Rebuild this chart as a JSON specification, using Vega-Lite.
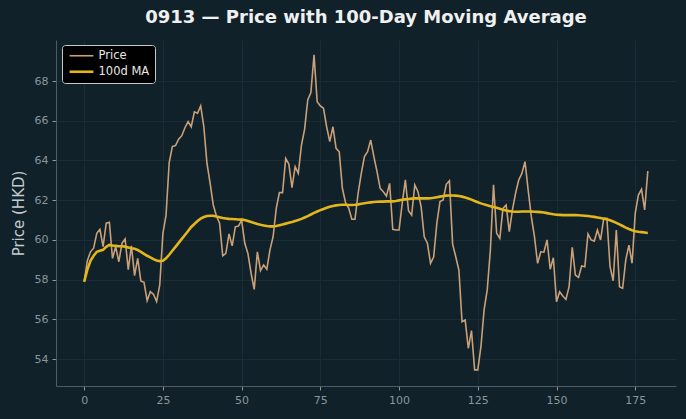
{
  "$schema": "https://vega.github.io/schema/vega-lite/v6.json",
  "autosize": "none",
  "width": 620,
  "height": 346,
  "padding": {"left": 56, "top": 40, "right": 10, "bottom": 33},
  "background": "#10212a",
  "title": {
    "text": "0913 — Price with 100-Day Moving Average",
    "font": "DejaVu Sans",
    "fontSize": 18,
    "fontWeight": "bold",
    "color": "#f0f0f0",
    "anchor": "middle",
    "offset": 13
  },
  "config": {
    "view": {"stroke": null},
    "font": "DejaVu Sans",
    "axis": {
      "labelFont": "DejaVu Sans",
      "labelFontSize": 11,
      "labelColor": "#8b969c",
      "tickColor": "#8b969c",
      "tickSize": 4,
      "labelPadding": 4,
      "domainColor": "#4e5c63",
      "gridColor": "#1a2d36",
      "gridWidth": 1
    },
    "legend": {
      "orient": "none",
      "legendX": 6,
      "legendY": 5,
      "fillColor": "#000000",
      "strokeColor": "#c8c8c8",
      "cornerRadius": 3,
      "padding": 5,
      "labelColor": "#e8e8e8",
      "labelFont": "DejaVu Sans",
      "labelFontSize": 11.5,
      "labelOffset": 20,
      "symbolType": "M-0.9,0H5.9",
      "symbolSize": 49,
      "rowPadding": 3
    }
  },
  "data": {
    "values": [
      {"day": 0, "Price": 57.89, "100d MA": 57.89},
      {"day": 1, "Price": 58.95, "100d MA": 58.5},
      {"day": 2, "Price": 59.4, "100d MA": 58.95},
      {"day": 3, "Price": 59.58, "100d MA": 59.2},
      {"day": 4, "Price": 60.33, "100d MA": 59.4},
      {"day": 5, "Price": 60.53, "100d MA": 59.45},
      {"day": 6, "Price": 59.66, "100d MA": 59.5},
      {"day": 7, "Price": 60.84, "100d MA": 59.65},
      {"day": 8, "Price": 60.89, "100d MA": 59.75},
      {"day": 9, "Price": 59.07, "100d MA": 59.72},
      {"day": 10, "Price": 59.66, "100d MA": 59.7},
      {"day": 11, "Price": 58.9, "100d MA": 59.68},
      {"day": 12, "Price": 59.83, "100d MA": 59.68},
      {"day": 13, "Price": 60.05, "100d MA": 59.66},
      {"day": 14, "Price": 58.5, "100d MA": 59.62},
      {"day": 15, "Price": 59.7, "100d MA": 59.58},
      {"day": 16, "Price": 58.2, "100d MA": 59.55},
      {"day": 17, "Price": 59.07, "100d MA": 59.49},
      {"day": 18, "Price": 57.93, "100d MA": 59.4},
      {"day": 19, "Price": 57.86, "100d MA": 59.3},
      {"day": 20, "Price": 56.94, "100d MA": 59.2},
      {"day": 21, "Price": 57.39, "100d MA": 59.12},
      {"day": 22, "Price": 57.26, "100d MA": 59.03},
      {"day": 23, "Price": 56.89, "100d MA": 58.96},
      {"day": 24, "Price": 57.73, "100d MA": 58.93},
      {"day": 25, "Price": 60.33, "100d MA": 58.95},
      {"day": 26, "Price": 61.25, "100d MA": 59.07},
      {"day": 27, "Price": 63.9, "100d MA": 59.25},
      {"day": 28, "Price": 64.7, "100d MA": 59.45},
      {"day": 29, "Price": 64.75, "100d MA": 59.65},
      {"day": 30, "Price": 65.07, "100d MA": 59.85},
      {"day": 31, "Price": 65.25, "100d MA": 60.05},
      {"day": 32, "Price": 65.65, "100d MA": 60.25},
      {"day": 33, "Price": 65.96, "100d MA": 60.45},
      {"day": 34, "Price": 65.7, "100d MA": 60.65},
      {"day": 35, "Price": 66.45, "100d MA": 60.8},
      {"day": 36, "Price": 66.38, "100d MA": 60.95},
      {"day": 37, "Price": 66.75, "100d MA": 61.07},
      {"day": 38, "Price": 65.7, "100d MA": 61.15},
      {"day": 39, "Price": 63.85, "100d MA": 61.2},
      {"day": 40, "Price": 62.85, "100d MA": 61.22},
      {"day": 41, "Price": 61.76, "100d MA": 61.22},
      {"day": 42, "Price": 61.2, "100d MA": 61.18},
      {"day": 43, "Price": 60.84, "100d MA": 61.14},
      {"day": 44, "Price": 59.2, "100d MA": 61.1},
      {"day": 45, "Price": 59.32, "100d MA": 61.08},
      {"day": 46, "Price": 60.3, "100d MA": 61.06},
      {"day": 47, "Price": 59.7, "100d MA": 61.05},
      {"day": 48, "Price": 60.66, "100d MA": 61.04},
      {"day": 49, "Price": 60.7, "100d MA": 61.03},
      {"day": 50, "Price": 61.0, "100d MA": 61.02},
      {"day": 51, "Price": 59.83, "100d MA": 61.0},
      {"day": 52, "Price": 59.32, "100d MA": 60.95},
      {"day": 53, "Price": 58.32, "100d MA": 60.9},
      {"day": 54, "Price": 57.51, "100d MA": 60.85},
      {"day": 55, "Price": 59.4, "100d MA": 60.8},
      {"day": 56, "Price": 58.45, "100d MA": 60.76},
      {"day": 57, "Price": 58.74, "100d MA": 60.73},
      {"day": 58, "Price": 58.52, "100d MA": 60.7},
      {"day": 59, "Price": 59.5, "100d MA": 60.68},
      {"day": 60, "Price": 60.16, "100d MA": 60.68},
      {"day": 61, "Price": 61.59, "100d MA": 60.7},
      {"day": 62, "Price": 62.38, "100d MA": 60.74},
      {"day": 63, "Price": 62.38, "100d MA": 60.78},
      {"day": 64, "Price": 64.11, "100d MA": 60.82},
      {"day": 65, "Price": 63.82, "100d MA": 60.86},
      {"day": 66, "Price": 62.63, "100d MA": 60.9},
      {"day": 67, "Price": 63.69, "100d MA": 60.95},
      {"day": 68, "Price": 63.35, "100d MA": 61.0},
      {"day": 69, "Price": 64.78, "100d MA": 61.06},
      {"day": 70, "Price": 65.57, "100d MA": 61.13},
      {"day": 71, "Price": 67.05, "100d MA": 61.2},
      {"day": 72, "Price": 67.42, "100d MA": 61.28},
      {"day": 73, "Price": 69.32, "100d MA": 61.36},
      {"day": 74, "Price": 66.96, "100d MA": 61.43},
      {"day": 75, "Price": 66.75, "100d MA": 61.5},
      {"day": 76, "Price": 66.63, "100d MA": 61.56},
      {"day": 77, "Price": 65.7, "100d MA": 61.62},
      {"day": 78, "Price": 64.95, "100d MA": 61.67},
      {"day": 79, "Price": 65.7, "100d MA": 61.71},
      {"day": 80, "Price": 64.61, "100d MA": 61.74},
      {"day": 81, "Price": 64.44, "100d MA": 61.76},
      {"day": 82, "Price": 62.6, "100d MA": 61.77},
      {"day": 83, "Price": 61.87, "100d MA": 61.77},
      {"day": 84, "Price": 61.6, "100d MA": 61.76},
      {"day": 85, "Price": 61.04, "100d MA": 61.76},
      {"day": 86, "Price": 61.04, "100d MA": 61.77},
      {"day": 87, "Price": 62.35, "100d MA": 61.79},
      {"day": 88, "Price": 63.35, "100d MA": 61.82},
      {"day": 89, "Price": 64.2, "100d MA": 61.85},
      {"day": 90, "Price": 64.44, "100d MA": 61.87},
      {"day": 91, "Price": 65.03, "100d MA": 61.89},
      {"day": 92, "Price": 64.19, "100d MA": 61.91},
      {"day": 93, "Price": 63.44, "100d MA": 61.92},
      {"day": 94, "Price": 62.6, "100d MA": 61.93},
      {"day": 95, "Price": 62.43, "100d MA": 61.93},
      {"day": 96, "Price": 62.21, "100d MA": 61.94},
      {"day": 97, "Price": 62.85, "100d MA": 61.94},
      {"day": 98, "Price": 60.53, "100d MA": 61.94},
      {"day": 99, "Price": 60.5, "100d MA": 61.96},
      {"day": 100, "Price": 60.5, "100d MA": 61.99},
      {"day": 101, "Price": 61.84, "100d MA": 62.02},
      {"day": 102, "Price": 63.02, "100d MA": 62.04},
      {"day": 103, "Price": 61.47, "100d MA": 62.06},
      {"day": 104, "Price": 61.25, "100d MA": 62.08},
      {"day": 105, "Price": 62.77, "100d MA": 62.09},
      {"day": 106, "Price": 62.43, "100d MA": 62.09},
      {"day": 107, "Price": 61.67, "100d MA": 62.09},
      {"day": 108, "Price": 60.16, "100d MA": 62.09},
      {"day": 109, "Price": 59.83, "100d MA": 62.09},
      {"day": 110, "Price": 58.82, "100d MA": 62.1},
      {"day": 111, "Price": 59.15, "100d MA": 62.12},
      {"day": 112, "Price": 60.84, "100d MA": 62.15},
      {"day": 113, "Price": 61.93, "100d MA": 62.18},
      {"day": 114, "Price": 62.01, "100d MA": 62.21},
      {"day": 115, "Price": 62.8, "100d MA": 62.23},
      {"day": 116, "Price": 62.98, "100d MA": 62.24},
      {"day": 117, "Price": 59.8, "100d MA": 62.24},
      {"day": 118, "Price": 59.15, "100d MA": 62.23},
      {"day": 119, "Price": 58.48, "100d MA": 62.21},
      {"day": 120, "Price": 55.88, "100d MA": 62.18},
      {"day": 121, "Price": 55.96, "100d MA": 62.14},
      {"day": 122, "Price": 54.54, "100d MA": 62.09},
      {"day": 123, "Price": 55.43, "100d MA": 62.03},
      {"day": 124, "Price": 53.45, "100d MA": 61.96},
      {"day": 125, "Price": 53.45, "100d MA": 61.9},
      {"day": 126, "Price": 54.62, "100d MA": 61.84},
      {"day": 127, "Price": 56.47, "100d MA": 61.79},
      {"day": 128, "Price": 57.48, "100d MA": 61.74},
      {"day": 129, "Price": 59.49, "100d MA": 61.7},
      {"day": 130, "Price": 62.77, "100d MA": 61.66},
      {"day": 131, "Price": 60.33, "100d MA": 61.62},
      {"day": 132, "Price": 60.08, "100d MA": 61.57},
      {"day": 133, "Price": 61.59, "100d MA": 61.52},
      {"day": 134, "Price": 61.76, "100d MA": 61.48},
      {"day": 135, "Price": 60.41, "100d MA": 61.45},
      {"day": 136, "Price": 61.51, "100d MA": 61.43},
      {"day": 137, "Price": 62.35, "100d MA": 61.42},
      {"day": 138, "Price": 63.02, "100d MA": 61.42},
      {"day": 139, "Price": 63.35, "100d MA": 61.43},
      {"day": 140, "Price": 63.94, "100d MA": 61.43},
      {"day": 141, "Price": 62.51, "100d MA": 61.43},
      {"day": 142, "Price": 61.17, "100d MA": 61.43},
      {"day": 143, "Price": 60.16, "100d MA": 61.42},
      {"day": 144, "Price": 58.82, "100d MA": 61.41},
      {"day": 145, "Price": 59.4, "100d MA": 61.4},
      {"day": 146, "Price": 59.38, "100d MA": 61.38},
      {"day": 147, "Price": 60.0, "100d MA": 61.35},
      {"day": 148, "Price": 58.52, "100d MA": 61.32},
      {"day": 149, "Price": 59.1, "100d MA": 61.29},
      {"day": 150, "Price": 56.89, "100d MA": 61.27},
      {"day": 151, "Price": 57.39, "100d MA": 61.26},
      {"day": 152, "Price": 57.17, "100d MA": 61.25},
      {"day": 153, "Price": 57.0, "100d MA": 61.25},
      {"day": 154, "Price": 57.64, "100d MA": 61.25},
      {"day": 155, "Price": 59.63, "100d MA": 61.25},
      {"day": 156, "Price": 58.23, "100d MA": 61.25},
      {"day": 157, "Price": 58.11, "100d MA": 61.24},
      {"day": 158, "Price": 58.69, "100d MA": 61.23},
      {"day": 159, "Price": 58.65, "100d MA": 61.22},
      {"day": 160, "Price": 60.3, "100d MA": 61.2},
      {"day": 161, "Price": 60.0, "100d MA": 61.18},
      {"day": 162, "Price": 59.94, "100d MA": 61.16},
      {"day": 163, "Price": 60.5, "100d MA": 61.13},
      {"day": 164, "Price": 60.0, "100d MA": 61.1},
      {"day": 165, "Price": 61.09, "100d MA": 61.07},
      {"day": 166, "Price": 61.09, "100d MA": 61.04},
      {"day": 167, "Price": 58.65, "100d MA": 60.99},
      {"day": 168, "Price": 57.94, "100d MA": 60.93},
      {"day": 169, "Price": 60.5, "100d MA": 60.86},
      {"day": 170, "Price": 57.64, "100d MA": 60.78},
      {"day": 171, "Price": 57.56, "100d MA": 60.7},
      {"day": 172, "Price": 58.99, "100d MA": 60.62},
      {"day": 173, "Price": 59.74, "100d MA": 60.55},
      {"day": 174, "Price": 58.82, "100d MA": 60.49},
      {"day": 175, "Price": 61.34, "100d MA": 60.44},
      {"day": 176, "Price": 62.26, "100d MA": 60.41},
      {"day": 177, "Price": 62.55, "100d MA": 60.39},
      {"day": 178, "Price": 61.51, "100d MA": 60.37},
      {"day": 179, "Price": 63.47, "100d MA": 60.35}
    ]
  },
  "transform": [
    {"fold": ["Price", "100d MA"], "as": ["series", "value"]}
  ],
  "mark": {"type": "line", "clip": true},
  "encoding": {
    "x": {
      "field": "day",
      "type": "quantitative",
      "scale": {"domain": [-8.95, 187.95], "nice": false, "zero": false},
      "axis": {"values": [0, 25, 50, 75, 100, 125, 150, 175], "title": null, "grid": true}
    },
    "y": {
      "field": "value",
      "type": "quantitative",
      "scale": {"domain": [52.64, 70.07], "nice": false, "zero": false},
      "axis": {
        "values": [54, 56, 58, 60, 62, 64, 66, 68],
        "title": "Price (HKD)",
        "titleFont": "DejaVu Sans",
        "titleFontSize": 15,
        "titleFontWeight": "normal",
        "titleColor": "#c3cbcf",
        "titlePadding": 8,
        "grid": true
      }
    },
    "color": {
      "field": "series",
      "type": "nominal",
      "scale": {"domain": ["Price", "100d MA"], "range": ["#c9a077", "#e3b61c"]},
      "legend": {"title": null}
    },
    "strokeWidth": {
      "field": "series",
      "type": "nominal",
      "scale": {"domain": ["Price", "100d MA"], "range": [1.6, 2.6]},
      "legend": {"title": null}
    }
  }
}
